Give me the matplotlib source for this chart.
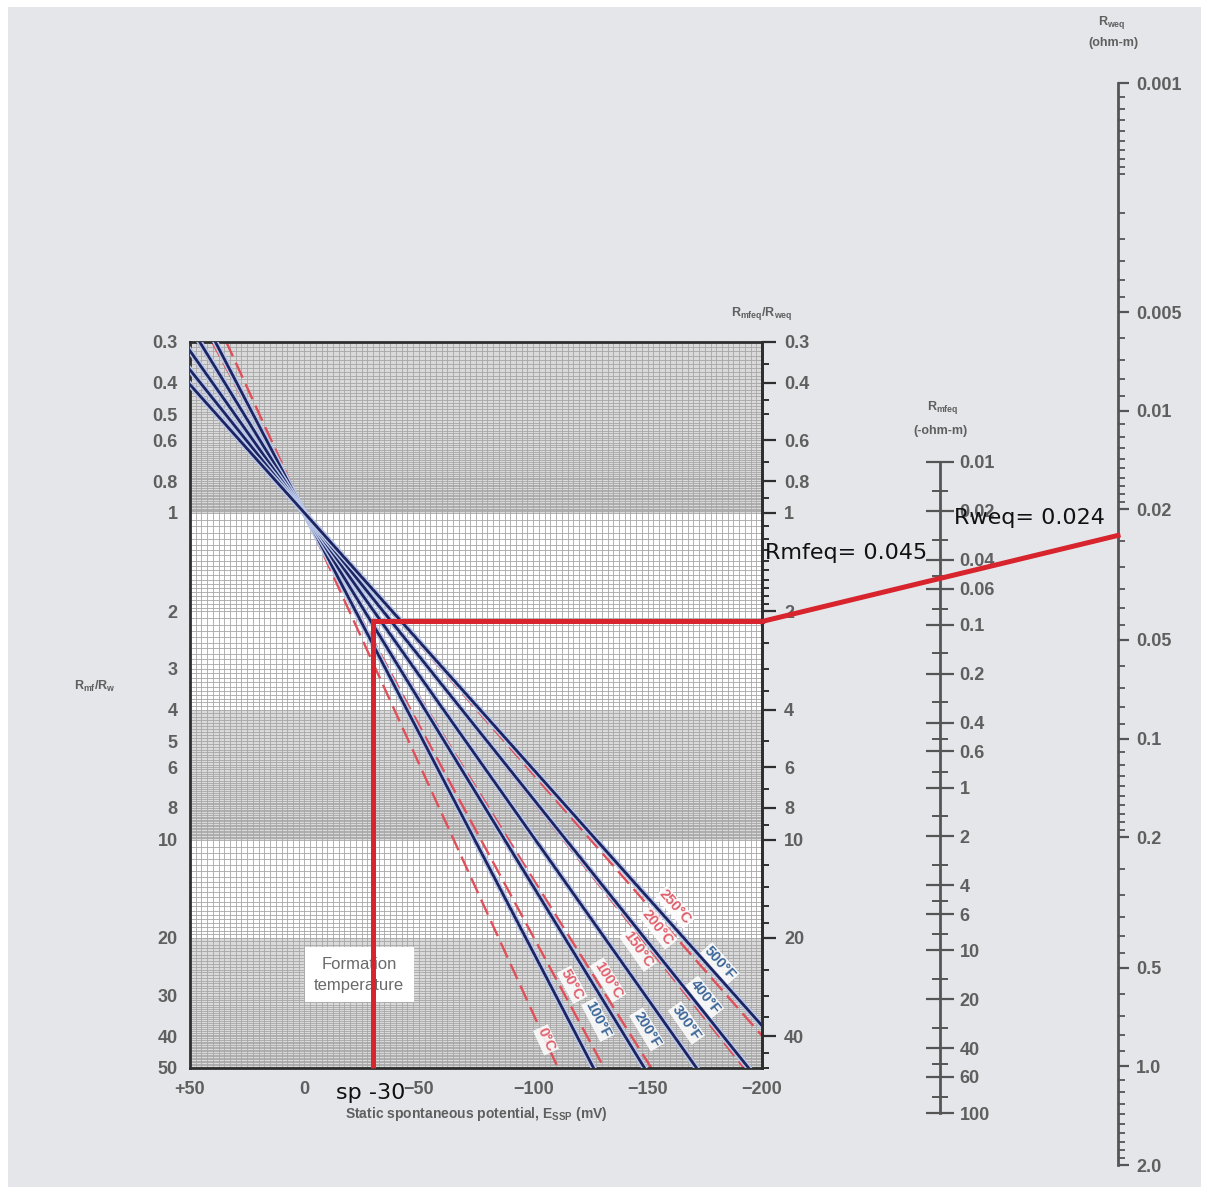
import math
import numpy as np
import matplotlib
matplotlib.use("Agg")
import matplotlib.pyplot as plt
import matplotlib.patheffects as pe
from matplotlib.patches import ConnectionPatch, Rectangle
from matplotlib.ticker import FixedLocator, NullFormatter, NullLocator

plt.rcParams["font.family"] = ["Liberation Sans", "DejaVu Sans"]
plt.rcParams["mathtext.default"] = "regular"

W, H = 1209, 1195
BG = "#e5e6ea"
GREY = "#5f5f5f"
RED = "#d7242d"

# ---- chart values ----
SSP_TICKS = [50, 0, -50, -100, -150, -200]
SSP_LABELS = ["+50", "0", "\u221250", "\u2212100", "\u2212150", "\u2212200"]
RATIO_LEFT = [0.3, 0.4, 0.5, 0.6, 0.8, 1, 2, 3, 4, 5, 6, 8, 10, 20, 30, 40, 50]
RATIO_RIGHT = [0.3, 0.4, 0.6, 0.8, 1, 2, 4, 6, 8, 10, 20, 40]
RATIO_RIGHT_MINOR = [0.35, 0.45, 0.5, 0.7, 0.9, 1.1, 1.2, 1.3, 1.4, 1.5, 1.6, 1.7, 1.8, 1.9,
                     2.5, 3, 3.5, 5, 7, 9, 12, 14, 16, 18, 25, 30, 35, 45, 50]

PIVOT_SSP, PIVOT_RATIO = 0.0, 1.0          # all lines cross here
REF_SSP = -100.0                            # ratios below are read at this SSP
C_NAMES = ["0°C", "50°C", "100°C", "150°C", "200°C", "250°C"]
C_RATIO = [34.1, 19.8, 13.2, 9.7, 7.66, 6.31]
C_LABEL_SSP = [-105.6, -117, -132.7, -145.8, -154.5, -162]
C_LABEL_RATIO = [41, 27.8, 26.9, 21.7, 18.6, 16.1]
F_NAMES = ["100°F", "200°F", "300°F", "400°F", "500°F"]
F_RATIO = [22.1, 13.9, 9.8, 7.5, 6.09]
F_LABEL_SSP = [-128.3, -149.7, -167, -175, -181.6]
F_LABEL_RATIO = [35.6, 38.1, 36.4, 30.3, 23.9]

RMFEQ_TICKS = [0.01, 0.02, 0.04, 0.06, 0.1, 0.2, 0.4, 0.6, 1, 2, 4, 6, 10, 20, 40, 60, 100]
RMFEQ_MINOR = [0.015, 0.03, 0.05, 0.08, 0.15, 0.3, 0.5, 0.8, 1.5, 3, 5, 8, 15, 30, 50, 80]
RWEQ_TICKS = [0.001, 0.005, 0.01, 0.02, 0.05, 0.1, 0.2, 0.5, 1.0, 2.0]
RWEQ_LABELS = ["0.001", "0.005", "0.01", "0.02", "0.05", "0.1", "0.2", "0.5", "1.0", "2.0"]
RWEQ_MINOR = [m * d for d in (0.001, 0.01, 0.1, 1.0)
              for m in (1.1, 1.2, 1.3, 1.4, 1.5, 1.6, 1.7, 1.8, 1.9, 2.5, 3, 3.5, 4, 4.5, 6, 7, 8, 9)
              if m * d < 2.0]

SP_READ = -30
RATIO_READ = 2.15
RMFEQ_READ = 0.045
RWEQ_READ = 0.024


def rect(x0, y0, x1, y1):
    return [x0 / W, 1 - y1 / H, (x1 - x0) / W, (y1 - y0) / H]


def fx(x):
    return x / W


def fy(y):
    return 1 - y / H


def fmt(v):
    return f"{v:g}"


fig = plt.figure(figsize=(W / 100, H / 100), dpi=100, facecolor="white")
fig.patches.append(Rectangle((8 / W, 8 / H), 1 - 16 / W, 1 - 15 / H, transform=fig.transFigure,
                             facecolor=BG, edgecolor="none", zorder=-10))

# ---- main chart ----
ax = fig.add_axes(rect(190, 342, 762, 1068))
ax.set_yscale("log")
ax.set_xlim(50, -200)
ax.set_ylim(50, 0.3)
ax.set_facecolor("white")
for lo, hi in [(0.3, 1), (4, 10), (20, 50)]:
    ax.axhspan(lo, hi, color="#dadada", lw=0, zorder=0)
grid_y = np.concatenate([np.arange(0.3, 1, 0.01), np.arange(1, 2, 0.05), np.arange(2, 4, 0.1),
                         np.arange(4, 10, 0.1), np.arange(10, 20, 0.5), np.arange(20, 50, 0.5)])
ax.hlines(grid_y, -200, 50, color="#a6a6a6", lw=0.6, zorder=1)
ax.vlines(np.arange(-200, 50, 2.5), 0.3, 50, color="#a6a6a6", lw=0.6, zorder=1)

e_ends = np.array([60.0, -215.0])


def line_ratio(r_ref, e):
    return PIVOT_RATIO * (r_ref / PIVOT_RATIO) ** ((e - PIVOT_SSP) / (REF_SSP - PIVOT_SSP))


def line_angle(r_ref):
    p0 = ax.transData.transform((PIVOT_SSP, PIVOT_RATIO))
    p1 = ax.transData.transform((REF_SSP, r_ref))
    return math.degrees(math.atan2(p1[1] - p0[1], p1[0] - p0[0]))


for r in C_RATIO:
    ax.plot(e_ends, line_ratio(r, e_ends), color="#e0505a", lw=1.7, dashes=(7, 3), zorder=2)
for r in F_RATIO:
    ax.plot(e_ends, line_ratio(r, e_ends), color="#1c2462", lw=2.0, zorder=3,
            path_effects=[pe.Stroke(linewidth=4.2, foreground="#b9c6e6"), pe.Normal()])

for name, r, e, q in zip(C_NAMES, C_RATIO, C_LABEL_SSP, C_LABEL_RATIO):
    ax.text(e, q, name, rotation=line_angle(r), rotation_mode="anchor", ha="center", va="center",
            fontsize=10.5, fontweight="bold", color="#e0606c", zorder=5,
            bbox=dict(fc="white", ec="none", pad=0.8, alpha=0.85))
for name, r, e, q in zip(F_NAMES, F_RATIO, F_LABEL_SSP, F_LABEL_RATIO):
    ax.text(e, q, name, rotation=line_angle(r), rotation_mode="anchor", ha="center", va="center",
            fontsize=10.5, fontweight="bold", color="#3c6698", zorder=5,
            bbox=dict(fc="white", ec="none", pad=0.8, alpha=0.85))

ax.text(-24, 25.9, "Formation\ntemperature", ha="center", va="center", fontsize=12,
        color="#6a6a6a", linespacing=1.5, zorder=4,
        bbox=dict(fc="white", ec="none", boxstyle="square,pad=0.55"))

for s in ax.spines.values():
    s.set_color("#2e2e2e")
    s.set_linewidth(2)
ax.set_xticks(SSP_TICKS, SSP_LABELS)
ax.set_yticks(RATIO_LEFT, [fmt(v) for v in RATIO_LEFT])
ax.yaxis.set_minor_locator(NullLocator())
ax.tick_params(axis="x", length=0, pad=9, labelsize=13, labelcolor=GREY)
ax.tick_params(axis="y", which="both", length=0, pad=9, labelsize=13, labelcolor=GREY)
for lbl in ax.get_xticklabels() + ax.get_yticklabels():
    lbl.set_fontweight("bold")

axr = ax.twinx()
axr.set_yscale("log")
axr.set_ylim(50, 0.3)
for k, s in axr.spines.items():
    s.set_visible(k == "right")
axr.spines["right"].set_color("#2e2e2e")
axr.spines["right"].set_linewidth(2)
axr.set_yticks(RATIO_RIGHT, [fmt(v) for v in RATIO_RIGHT])
axr.yaxis.set_minor_locator(FixedLocator(RATIO_RIGHT_MINOR))
axr.yaxis.set_minor_formatter(NullFormatter())
axr.tick_params(which="major", length=10, width=1.6, color="#2e2e2e", pad=6, labelsize=13,
                labelcolor=GREY)
axr.tick_params(which="minor", length=5, width=1.4, color="#2e2e2e")
for lbl in axr.get_yticklabels():
    lbl.set_fontweight("bold")

# ---- Rmfeq scale ----
axm = fig.add_axes(rect(939, 462, 940, 1113))
axm.set_yscale("log")
axm.set_ylim(100, 0.01)
axm.patch.set_visible(False)
axm.set_xticks([])
for k, s in axm.spines.items():
    s.set_visible(k == "right")
axm.spines["right"].set_color("#555555")
axm.spines["right"].set_linewidth(2)
axm.yaxis.tick_right()
axm.set_yticks(RMFEQ_TICKS, [fmt(v) for v in RMFEQ_TICKS])
axm.yaxis.set_minor_locator(FixedLocator(RMFEQ_MINOR))
axm.yaxis.set_minor_formatter(NullFormatter())
axm.tick_params(which="major", direction="inout", length=20, width=1.6, color="#555555", pad=4,
                labelsize=13, labelcolor=GREY)
axm.tick_params(which="minor", direction="inout", length=11, width=1.4, color="#555555")
for lbl in axm.get_yticklabels():
    lbl.set_fontweight("bold")

# ---- Rweq scale ----
axw = fig.add_axes(rect(1108, 83, 1118, 1165))
axw.set_yscale("log")
axw.set_ylim(2.0, 0.001)
axw.patch.set_visible(False)
axw.set_xticks([])
for k, s in axw.spines.items():
    s.set_visible(k == "right")
axw.spines["right"].set_color("#555555")
axw.spines["right"].set_linewidth(2)
axw.yaxis.tick_right()
axw.set_yticks(RWEQ_TICKS, RWEQ_LABELS)
axw.yaxis.set_minor_locator(FixedLocator(RWEQ_MINOR))
axw.yaxis.set_minor_formatter(NullFormatter())
axw.tick_params(which="major", direction="out", length=8, width=1.6, color="#555555", pad=5,
                labelsize=13, labelcolor=GREY)
axw.tick_params(which="minor", direction="out", length=5, width=1.3, color="#555555")
for lbl in axw.get_yticklabels():
    lbl.set_fontweight("bold")

# ---- worked example in red ----
ax.plot([SP_READ, SP_READ], [50, RATIO_READ], color=RED, lw=3.6, zorder=6, solid_capstyle="butt",
        clip_on=False)
ax.plot([SP_READ, -200], [RATIO_READ, RATIO_READ], color=RED, lw=3.6, zorder=6,
        solid_capstyle="projecting", clip_on=False)
con = ConnectionPatch(xyA=(-200, RATIO_READ), coordsA=ax.transData,
                      xyB=(1.0, RWEQ_READ), coordsB=axw.get_yaxis_transform(),
                      color=RED, lw=3.6, zorder=6, capstyle="projecting")
fig.add_artist(con)

fig.text(fx(371), fy(1093), f"sp {SP_READ}", fontsize=16, family="DejaVu Sans", ha="center",
         va="center", color="#111111")
fig.text(fx(765), fy(553), f"Rmfeq= {RMFEQ_READ}", fontsize=16, family="DejaVu Sans", ha="left",
         va="center", color="#111111")
fig.text(fx(954), fy(518), f"Rweq= {RWEQ_READ}", fontsize=16, family="DejaVu Sans", ha="left",
         va="center", color="#111111")

# ---- titles ----
tkw = dict(fontsize=9, fontweight="bold", color=GREY, ha="center", va="center")
fig.text(fx(762), fy(314), "R$_{mfeq}$/R$_{weq}$", **tkw)
fig.text(fx(95), fy(686), "R$_{mf}$/R$_{w}$", **tkw)
fig.text(fx(943), fy(408), "R$_{mfeq}$", **tkw)
fig.text(fx(941), fy(431), "(-ohm-m)", **tkw)
fig.text(fx(1112), fy(22), "R$_{weq}$", **tkw)
fig.text(fx(1113), fy(43), "(ohm-m)", **tkw)
fig.text(fx(476), fy(1114), "Static spontaneous potential, E$_{SSP}$ (mV)", fontsize=10,
         fontweight="bold", color=GREY, ha="center", va="center")

fig.savefig("out.png", dpi=100, facecolor=fig.get_facecolor())
